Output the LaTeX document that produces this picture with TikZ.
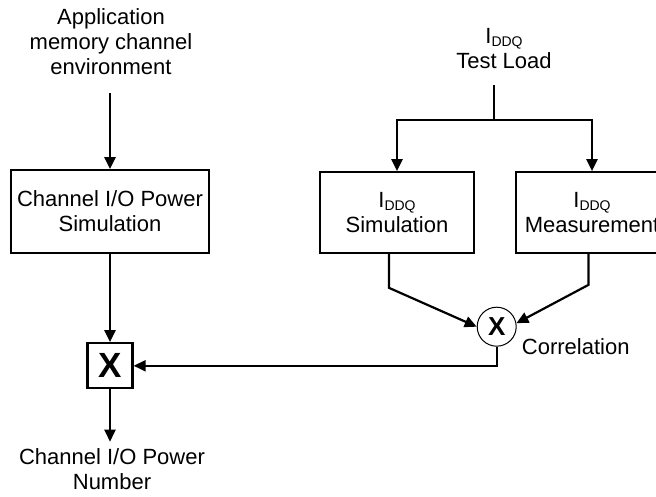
\documentclass[tikz,border=0pt]{standalone}
\usepackage{fontspec}
\setmainfont{Liberation Sans}
\usetikzlibrary{arrows.meta}
\newcommand{\Iddq}{I\raisebox{-3pt}{\fontsize{14}{14}\selectfont DDQ}}
\begin{document}
\begin{tikzpicture}[x=1pt,y=-1pt,
  txt/.style={font=\fontsize{22}{25}\selectfont, align=center, inner sep=0pt},
  blk/.style={txt, draw, line width=1.7pt, minimum width=#1, minimum height=81pt},
  arr/.style={line width=2.2pt, -{Triangle[width=11pt,length=12pt]}},
  ln/.style={line width=2.2pt}]
\useasboundingbox (0,0) rectangle (656,497);
\clip (0,0) rectangle (656,497);

% left column
\node[txt] (app) at (111,42) {Application\\memory channel\\environment};
\coordinate (appout) at (110,93);
\node[blk=198pt, minimum height=83pt] (chsim) at (110,211.5) {Channel I/O Power\\Simulation};
\node[draw, line width=2.3pt, minimum size=45pt, inner sep=0pt,
      font=\fontsize{35}{35}\selectfont\bfseries] (mult) at (110,365.8) {X};
\node[txt] (outtxt) at (112,469.5) {Channel I/O Power\\Number};

% right part
\node[txt] (load) at (504,48.5) {\Iddq\\Test Load};
\coordinate (loadout) at (494,85);
\coordinate (split) at (494,120);
\node[blk=154pt] (sim) at (397,212.5) {\Iddq\\Simulation};
\node[blk=152pt] (meas) at (592,212.5) {\Iddq\\Measurement};
\node[circle, draw, line width=1pt, minimum size=39pt, inner sep=0pt,
      font=\fontsize{26}{26}\selectfont\bfseries] (corr) at (496.7,326.7) {X};
\node[txt, anchor=base west] (corrlbl) at (521.7,354) {Correlation};

% connectors
\draw[arr] (appout) -- (appout |- chsim.north);
\draw[arr] (chsim.south) -- (mult.north);
\draw[arr] (mult.south) -- ([yshift=7pt]mult.south |- outtxt.north);
\draw[ln] (loadout) -- (split);
\draw[arr] (split) -| (sim.north);
\draw[arr] (split) -| (meas.north);
\draw[arr] ([xshift=-8pt]sim.south) -- ++(0,34) -- (corr.west);
\draw[arr] ([xshift=-3.5pt]meas.south) -- ++(0,31) -- (corr.10);
\draw[arr] (corr.south) |- (mult.east);
\end{tikzpicture}
\end{document}
